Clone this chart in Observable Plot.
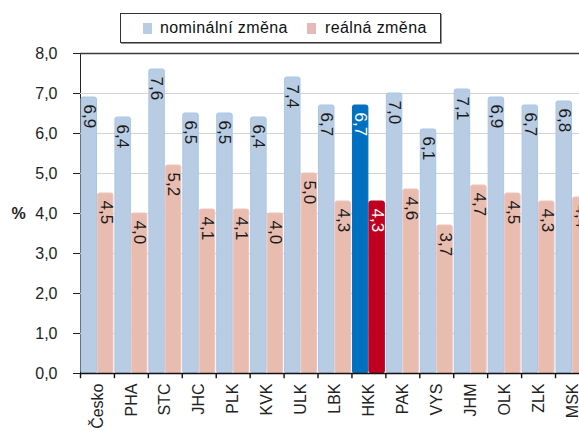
<!DOCTYPE html>
<html><head><meta charset="utf-8">
<script src="https://cdn.jsdelivr.net/npm/d3@7"></script>
<script src="https://cdn.jsdelivr.net/npm/@observablehq/plot@0.6"></script>
<style>
body{margin:0;overflow:hidden;background:#fff;font-family:"Liberation Sans",Arial,sans-serif;}
#wrap{position:relative;width:579px;height:435px;}
#legend{position:absolute;left:120px;top:13px;width:319px;height:28px;border:1px solid #333;box-shadow:1px 1px 0 #999;background:#fff;font-size:16px;color:#111;}
#legend span.sw{position:absolute;top:9px;width:9px;height:11px;}
#legend span.lb{position:absolute;top:5px;letter-spacing:0.4px;}
</style></head>
<body><div id="wrap"><div id="chart"></div>
<div id="legend"><span class="sw" style="left:22px;background:#b8cce4"></span><span class="lb" style="left:39px">nominální změna</span><span class="sw" style="left:186px;background:#e6b9b8"></span><span class="lb" style="left:204px">reálná změna</span></div>
</div>
<script>
const categories = ["Česko","PHA","STC","JHC","PLK","KVK","ULK","LBK","HKK","PAK","VYS","JHM","OLK","ZLK","MSK"];
const nominal = [6.9,6.4,7.6,6.5,6.5,6.4,7.4,6.7,6.7,7.0,6.1,7.1,6.9,6.7,6.8];
const real = [4.5,4.0,5.2,4.1,4.1,4.0,5.0,4.3,4.3,4.6,3.7,4.7,4.5,4.3,4.4];
const yTicks = [0,1,2,3,4,5,6,7,8];
const highlight = "HKK";

const rows = categories.map((c,i)=>({cat:c, nom:nominal[i], real:real[i]}));
const step = 33.93;
const fmt = v => v.toFixed(1).replace(".", ",");
const font = "Liberation Sans, Arial, sans-serif";

const chart = Plot.plot({
  width: 579, height: 435,
  marginTop: 53, marginBottom: 62, marginLeft: 80, marginRight: 0,
  style: {fontFamily: font, fontSize: "16px", color: "#222", background: "#fff"},
  x: {domain: categories, range: [80, 80 + step*categories.length], padding: 0, round: false, label: null, tickSize: 0, tickPadding: 10, tickRotate: -90},
  y: {domain: [0,8], ticks: yTicks, tickSize: 7, tickPadding: 16, tickFormat: fmt, label: null, line: true},
  marks: [
    Plot.ruleY(yTicks.filter(t=>t>0 && t<8), {stroke: "#d4d4d4", strokeWidth: 1.2}),
    Plot.ruleY([8], {stroke: "#3a3a3a", strokeWidth: 1.6}),
    Plot.barY(rows, {x: "cat", y: "nom", insetLeft: 1, insetRight: step/2 + 0.5,
      fill: d => d.cat === highlight ? "#0070c0" : "#b8cce4",
      stroke: d => d.cat === highlight ? "#0070c0" : "#a7c7e9", strokeWidth: 1, rx: 2}),
    Plot.barY(rows, {x: "cat", y: "real", insetLeft: step/2 + 0.5, insetRight: 1,
      fill: d => d.cat === highlight ? "#c00020" : "#e9bcb0",
      stroke: d => d.cat === highlight ? "#c00020" : "#f1c3bb", strokeWidth: 1, rx: 2}),
    Plot.text(rows, {x: "cat", y: "nom", text: d => fmt(d.nom), rotate: 90, textAnchor: "start",
      dx: -8.5, dy: 7, fontSize: 17, fill: d => d.cat === highlight ? "#fff" : "#1a1a1a"}),
    Plot.text(rows, {x: "cat", y: "real", text: d => fmt(d.real), rotate: 90, textAnchor: "start",
      dx: 8.5, dy: 7, fontSize: 17, fill: d => d.cat === highlight ? "#fff" : "#1a1a1a"}),
    Plot.ruleY([0], {stroke: "#111", strokeWidth: 1.6}),
    Plot.ruleX(categories, {x: d => d, dx: -step/2, y1: 0, y2: -0.13, stroke: "#111", strokeWidth: 1.4}),
    Plot.text(["%"], {frameAnchor: "left", y: 4, dx: -69, text: d => d, fontSize: 16, fontWeight: "bold", fill: "#222"})
  ]
});
document.getElementById("chart").appendChild(chart);
</script></body></html>
